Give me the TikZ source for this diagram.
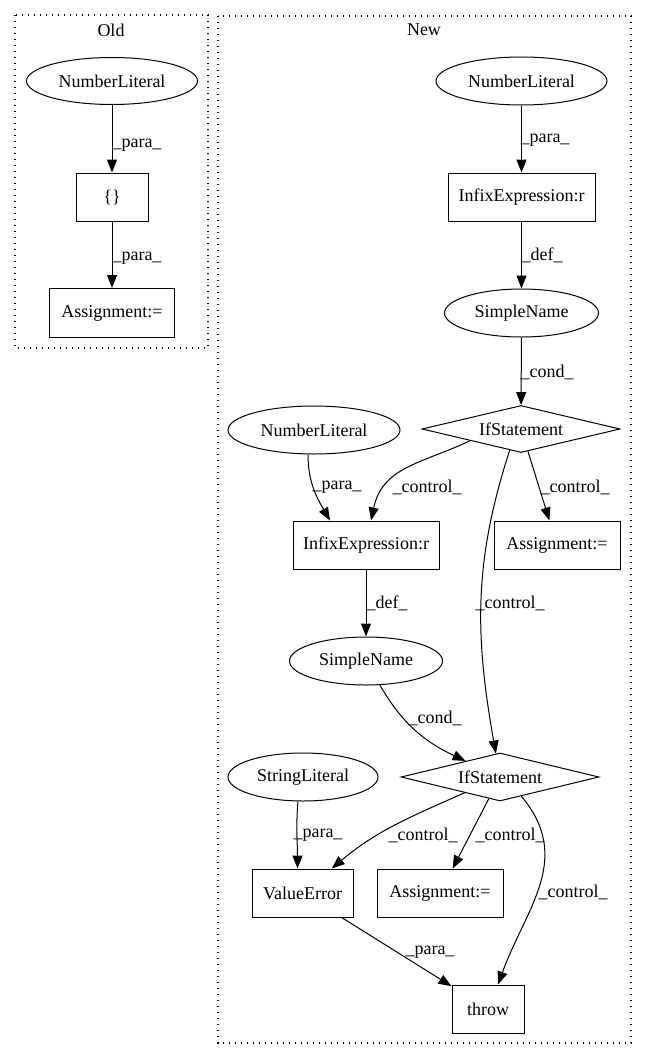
\documentclass[tikz,border=0pt]{standalone}
\usepackage{fontspec}
\setmainfont{Liberation Serif}
\usetikzlibrary{arrows.meta,shapes.geometric}
\tikzset{
  base/.style={draw,line width=1pt,inner sep=0pt,font=\fontsize{18pt}{20pt}\selectfont},
  ell/.style={base,ellipse},
  box/.style={base,rectangle},
  dia/.style={base,diamond,aspect=4},
  edge/.style={line width=1pt,-{Triangle[length=13pt,width=10pt]}},
  lbl/.style={font=\fontsize{18pt}{20pt}\selectfont,inner sep=0pt},
  cluster/.style={line width=1.1pt,dash pattern=on 1.1pt off 4.9pt},
}
\begin{document}
\begin{tikzpicture}[x=1pt,y=1pt]
\useasboundingbox (0,0) rectangle (647,-1060);
% clusters
\draw[cluster] (15,-15) rectangle (208,-348);
\draw[cluster] (218,-16) rectangle (631,-1043);
\node[lbl] (tOld) at (111,-30) {Old};
\node[lbl] (tNew) at (424,-30) {New};
% Old
\node[ell,minimum width=171pt,minimum height=47pt] (oNL) at (112,-81) {NumberLiteral};
\node[box,minimum width=72pt,minimum height=48pt] (oBr) at (112,-197) {\{\}};
\node[box,minimum width=125pt,minimum height=49pt] (oAs) at (112,-313) {Assignment:=};
% New
\node[ell,minimum width=171pt,minimum height=48pt] (nNL1) at (521.5,-81) {NumberLiteral};
\node[box,minimum width=147pt,minimum height=48pt] (nIx1) at (521.5,-197) {InfixExpression:r};
\node[ell,minimum width=154pt,minimum height=48pt] (nSN1) at (521.5,-313) {SimpleName};
\node[dia,minimum width=198pt,minimum height=47pt] (nIf1) at (521,-429) {IfStatement};
\node[ell,minimum width=172pt,minimum height=48pt] (nNL2) at (314,-430) {NumberLiteral};
\node[box,minimum width=146pt,minimum height=48pt] (nIx2) at (366,-545) {InfixExpression:r};
\node[box,minimum width=126pt,minimum height=48pt] (nAs1) at (557,-545) {Assignment:=};
\node[ell,minimum width=153pt,minimum height=48pt] (nSN2) at (366,-661) {SimpleName};
\node[dia,minimum width=198pt,minimum height=48pt] (nIf2) at (500,-777) {IfStatement};
\node[ell,minimum width=150pt,minimum height=48pt] (nSL) at (303,-777) {StringLiteral};
\node[box,minimum width=101pt,minimum height=48pt] (nVE) at (302.5,-893) {ValueError};
\node[box,minimum width=126pt,minimum height=48pt] (nAs2) at (440,-893) {Assignment:=};
\node[box,minimum width=72pt,minimum height=48pt] (nTh) at (488,-1009) {throw};
% edges old
\draw[edge] (oNL) -- (oBr);
\draw[edge] (oBr) -- (oAs);
\node[lbl] (l1) at (137,-145) {\_para\_};
\node[lbl] (l2) at (137,-258) {\_para\_};
% edges new
\draw[edge] (nNL1) -- (nIx1);
\draw[edge] (nIx1) -- (nSN1);
\draw[edge] (nSN1) -- (nIf1);
\draw[edge] (nIf1.193) to[out=205,in=78,looseness=1.1] ([xshift=5pt]nIx2.north);
\draw[edge] ([xshift=-6pt]nNL2.south) to[out=270,in=120] ([xshift=-36pt]nIx2.north);
\draw[edge] (nIf1) -- (nAs1);
\draw[edge] (nIf1.242) to[out=252,in=100] (nIf2.100);
\draw[edge] (nIx2) -- (nSN2);
\draw[edge] (nSN2) to[out=300,in=155] (nIf2);
\draw[edge] (nIf2.204) to[out=204,in=40] (nVE.40);
\draw[edge] ([xshift=-5pt]nSL.south) to[out=265,in=90] ([xshift=-5pt]nVE.north);
\draw[edge] (nIf2) -- (nAs2);
\draw[edge] (nIf2.318) to[out=-50,in=70,looseness=1.1] ([xshift=10pt]nTh.north);
\draw[edge] (nVE) -- (nTh);
\node[lbl] (l3) at (545,-140) {\_para\_};
\node[lbl] (l4) at (542,-255) {\_def\_};
\node[lbl] (l5) at (547,-372) {\_cond\_};
\node[lbl] (l6) at (337,-487) {\_para\_};
\node[lbl] (l7) at (427,-487) {\_control\_};
\node[lbl] (l8) at (575,-487) {\_control\_};
\node[lbl] (l9) at (510,-603) {\_control\_};
\node[lbl] (l10) at (387,-603) {\_def\_};
\node[lbl] (l11) at (435,-718) {\_cond\_};
\node[lbl] (l12) at (318,-835) {\_para\_};
\node[lbl] (l13) at (423,-835) {\_control\_};
\node[lbl] (l14) at (510,-835) {\_control\_};
\node[lbl] (l15) at (573,-892) {\_control\_};
\node[lbl] (l16) at (430,-952) {\_para\_};
\end{tikzpicture}
\end{document}
